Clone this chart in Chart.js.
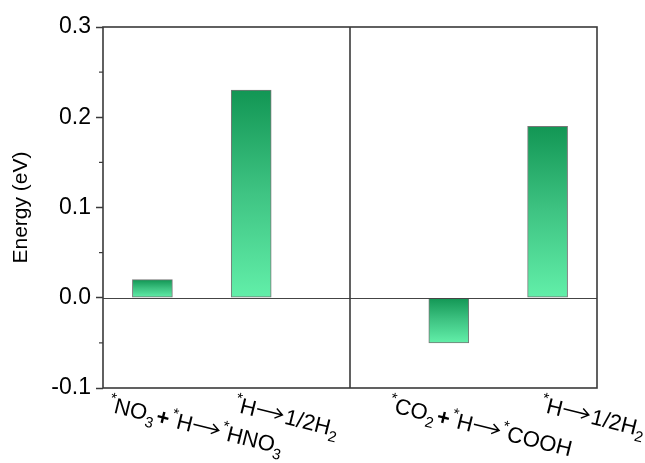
<!DOCTYPE html>
<html>
<head>
<meta charset="utf-8">
<script src="https://cdn.jsdelivr.net/npm/chart.js@4.4.1/dist/chart.umd.min.js"></script>
<style>
  html, body { margin: 0; padding: 0; background: #fff; }
  #wrap { width: 645px; height: 463px; }
</style>
</head>
<body>
<div id="wrap"><canvas id="energy"></canvas></div>
<script>
// labels: ^ = next char superscript, _ = next char subscript
var categories = ["^*NO_3+^*H→^*HNO_3", "^*H→1/2H_2", "^*CO_2+^*H→^*COOH", "^*H→1/2H_2"];
var slots = [1, 2, 4, 5];
var energies = [0.02, 0.23, -0.05, 0.19];
var yTicks = [-0.1, 0.0, 0.1, 0.2, 0.3];
var panelSplit = 3;

// where each rotated label starts, relative to its bar
var labelDx = [-45, -18, -61, -8];
var labelY = 411;
var labelAngle = 14 * Math.PI / 180;

var frameColor = "#3a3a3a";
var fontFam = "Arial, 'Liberation Sans', sans-serif";

function barGradient(context) {
  var chart = context.chart;
  var area = chart.chartArea;
  if (!area) return "#3cc07e";
  var v = energies[context.dataIndex];
  var y = chart.scales.y;
  var top = y.getPixelForValue(Math.max(v, 0));
  var bottom = y.getPixelForValue(Math.min(v, 0));
  var g = chart.ctx.createLinearGradient(0, top, 0, bottom);
  g.addColorStop(0, "#129654");
  g.addColorStop(0.5, "#3fc483");
  g.addColorStop(1, "#62efa9");
  return g;
}

function drawRich(ctx, str, x, y, angle) {
  ctx.save();
  ctx.translate(x, y);
  ctx.rotate(angle);
  ctx.fillStyle = "#000";
  ctx.strokeStyle = "#000";
  ctx.textBaseline = "alphabetic";
  ctx.textAlign = "left";
  var cx = 0;
  for (var i = 0; i < str.length; i++) {
    var ch = str[i];
    var dy = 0;
    if (ch === "→") {
      // long arrow like the original
      var ay = -8;
      ctx.lineWidth = 1.4;
      ctx.beginPath();
      ctx.moveTo(cx + 1, ay);
      ctx.lineTo(cx + 27, ay);
      ctx.moveTo(cx + 20, ay - 5);
      ctx.lineTo(cx + 27, ay);
      ctx.lineTo(cx + 20, ay + 5);
      ctx.stroke();
      cx += 30;
      continue;
    }
    if (ch === "^" || ch === "_") {
      dy = ch === "^" ? -9 : 6;
      i++;
      ch = str[i];
      ctx.font = "15px " + fontFam;
    } else if (ch === "+") {
      ctx.font = "bold 22px " + fontFam;
      cx += 2;
    } else {
      ctx.font = "22px " + fontFam;
    }
    ctx.fillText(ch, cx, dy);
    cx += ctx.measureText(ch).width;
    if (ch === "+") cx += 2;
  }
  ctx.restore();
}

var extras = {
  id: "extras",
  afterDatasetsDraw: function(chart) {
    var ctx = chart.ctx;
    var a = chart.chartArea;
    var xs = chart.scales.x;
    var ys = chart.scales.y;

    ctx.save();
    // zero line
    ctx.strokeStyle = "#444";
    ctx.lineWidth = 1;
    var y0 = Math.round(ys.getPixelForValue(0)) + 0.5;
    ctx.beginPath();
    ctx.moveTo(a.left, y0);
    ctx.lineTo(a.right, y0);
    ctx.stroke();

    // frame + panel divider
    ctx.strokeStyle = frameColor;
    ctx.lineWidth = 1.6;
    ctx.strokeRect(a.left, a.top, a.right - a.left, a.bottom - a.top);
    var xd = xs.getPixelForValue(panelSplit);
    ctx.beginPath();
    ctx.moveTo(xd, a.top);
    ctx.lineTo(xd, a.bottom);
    ctx.stroke();

    // minor ticks on y
    ctx.lineWidth = 1.2;
    for (var k = 0; k < yTicks.length - 1; k++) {
      var ym = ys.getPixelForValue((yTicks[k] + yTicks[k + 1]) / 2);
      ctx.beginPath();
      ctx.moveTo(a.left - 4, ym);
      ctx.lineTo(a.left, ym);
      ctx.stroke();
    }
    ctx.restore();

    // category labels
    categories.forEach(function(lab, i) {
      var px = xs.getPixelForValue(slots[i]);
      drawRich(ctx, lab, px + labelDx[i], labelY, labelAngle);
    });
  }
};

new Chart(document.getElementById("energy"), {
  type: "bar",
  data: {
    datasets: [{
      data: slots.map(function(s, i) { return { x: s, y: energies[i] }; }),
      backgroundColor: barGradient,
      borderColor: "rgba(85,85,85,0.8)",
      borderWidth: 1,
      borderSkipped: false,
      barThickness: 40
    }]
  },
  options: {
    responsive: true,
    maintainAspectRatio: false,
    animation: false,
    events: [],
    layout: { padding: { top: 27, right: 48, bottom: 75, left: 9 } },
    plugins: { legend: { display: false }, tooltip: { enabled: false } },
    scales: {
      x: {
        type: "linear",
        min: 0.5,
        max: 5.5,
        offset: false,
        display: false
      },
      y: {
        min: -0.1,
        max: 0.3,
        afterFit: function(scale) { scale.width = 94; },
        afterBuildTicks: function(scale) {
          scale.ticks = yTicks.map(function(v) { return { value: v }; });
        },
        ticks: {
          color: "#000",
          padding: 5,
          font: { family: fontFam, size: 23 },
          callback: function(v) { return Number(v).toFixed(1); }
        },
        grid: {
          drawOnChartArea: false,
          drawTicks: true,
          tickLength: 7,
          tickColor: frameColor,
          tickWidth: 1.5
        },
        border: { display: false },
        title: {
          display: true,
          text: "Energy (eV)",
          color: "#000",
          font: { family: fontFam, size: 21 },
          padding: { top: 0, bottom: 4 }
        }
      }
    }
  },
  plugins: [extras]
});
</script>
</body>
</html>
